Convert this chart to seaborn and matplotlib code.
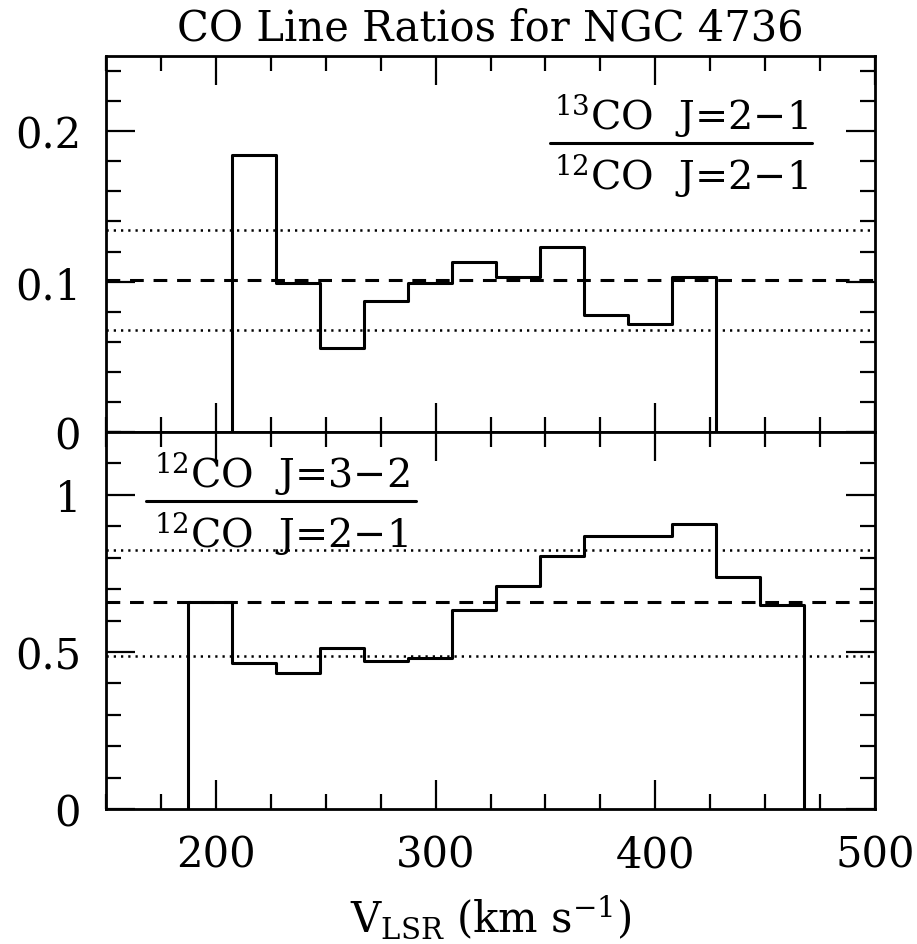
import numpy as np
import pandas as pd
import matplotlib
matplotlib.use("Agg")
import matplotlib.pyplot as plt
from matplotlib.ticker import MultipleLocator, FixedLocator
import seaborn as sns

# Velocity bin edges (km/s, 20 km/s channels) and line ratios per channel
edges_13co = [207.5, 227.5, 247.5, 267.5, 287.5, 307.5, 327.5, 347.5, 367.5,
              387.5, 407.5, 427.5]
ratio_13co = [0.184, 0.099, 0.056, 0.087, 0.099, 0.113, 0.103, 0.123, 0.078, 0.072, 0.103]
mean_13co = 0.101
band_13co = [0.068, 0.134]

edges_32 = [187.5, 207.5, 227.5, 247.5, 267.5, 287.5, 307.5, 327.5, 347.5,
            367.5, 387.5, 407.5, 427.5, 447.5, 467.5]
ratio_32 = [0.660, 0.465, 0.434, 0.511, 0.471, 0.481, 0.634, 0.710, 0.806,
            0.870, 0.868, 0.907, 0.737, 0.648]
mean_32 = 0.658
band_32 = [0.488, 0.823]

title = "CO Line Ratios for NGC 4736"
label_top = ["$^{13}$CO  J=2\u22121", "$^{12}$CO  J=2\u22121"]
label_bot = ["$^{12}$CO  J=3\u22122", "$^{12}$CO  J=2\u22121"]
x_major = [200, 300, 400, 500]

sns.set_theme(style="ticks")
plt.rcParams["font.family"] = ["DejaVu Serif"]
plt.rcParams["mathtext.fontset"] = "dejavuserif"
for key in ["text.color", "axes.labelcolor", "xtick.color", "ytick.color",
            "axes.edgecolor"]:
    plt.rcParams[key] = "black"

W, H = 917, 945
fig = plt.figure(figsize=(W / 100, H / 100), dpi=100)
L, R = 106 / W, 875 / W
ax_top = fig.add_axes([L, 1 - 433 / H, R - L, (433 - 57) / H])
ax_bot = fig.add_axes([L, 1 - 810 / H, R - L, (810 - 433) / H], sharex=ax_top)

FS = 30
LW = 2.2


def ratio_panel(ax, edges, ratio, mean, band, ylim, ymajor, yminor, ylabels):
    centers = [0.5 * (a + b) for a, b in zip(edges[:-1], edges[1:])]
    # pad with empty bins so the outline drops to zero at both ends
    bins = [edges[0] - 0.01] + list(edges) + [edges[-1] + 0.01]
    df = pd.DataFrame({"v": centers, "r": ratio})
    sns.histplot(data=df, x="v", weights="r", bins=bins, element="step",
                 fill=False, color="black", linewidth=LW, ax=ax)
    ax.axhline(mean, color="black", lw=2.2, ls=(0, (4.5, 3.2)))
    for b in band:
        ax.axhline(b, color="black", lw=1.8, ls=(0, (0.9, 2.0)))
    ax.set_xlim(150, 500)
    ax.set_ylim(*ylim)
    ax.yaxis.set_major_locator(FixedLocator(ymajor))
    ax.set_yticklabels(ylabels)
    ax.yaxis.set_minor_locator(MultipleLocator(yminor))
    ax.xaxis.set_major_locator(FixedLocator(x_major))
    ax.xaxis.set_minor_locator(MultipleLocator(25))
    ax.tick_params(which="both", direction="in", top=True, right=True,
                   width=1.6, labelsize=FS, pad=18, color="black")
    ax.tick_params(which="major", length=21)
    ax.tick_params(which="minor", length=11)
    for s in ax.spines.values():
        s.set_linewidth(2.0)
        s.set_color("black")
        s.set_visible(True)
    ax.set_ylabel("")
    ax.set_xlabel("")


ratio_panel(ax_top, edges_13co, ratio_13co, mean_13co, band_13co,
            (0, 0.25), [0, 0.1, 0.2], 0.02, ["0", "0.1", "0.2"])
ratio_panel(ax_bot, edges_32, ratio_32, mean_32, band_32,
            (0, 1.2), [0, 0.5, 1.0], 0.1, ["0", "0.5", "1"])
ax_top.tick_params(labelbottom=False)

ax_top.set_title(title, fontsize=FS, pad=12)
ax_bot.set_xlabel("V$_{\\rm LSR}$ (km s$^{-1}$)", fontsize=FS, labelpad=12)


def fraction(ax, xc, y_line, x0, x1, num, den, fs):
    ax.text(xc, y_line + 0.012, num, transform=ax.transAxes, ha="center",
            va="bottom", fontsize=fs)
    ax.text(xc, y_line - 0.022, den, transform=ax.transAxes, ha="center",
            va="top", fontsize=fs)
    ax.plot([x0, x1], [y_line, y_line], transform=ax.transAxes,
            color="black", lw=2.2, clip_on=False)


fraction(ax_top, 0.748, (433 - 144) / 376, (550 - 106) / 769, (812 - 106) / 769,
         label_top[0], label_top[1], 28.5)
fraction(ax_bot, 0.228, (810 - 502) / 377, (146 - 106) / 769, (416 - 106) / 769,
         label_bot[0], label_bot[1], 28.5)

fig.savefig("out.png", dpi=100)
